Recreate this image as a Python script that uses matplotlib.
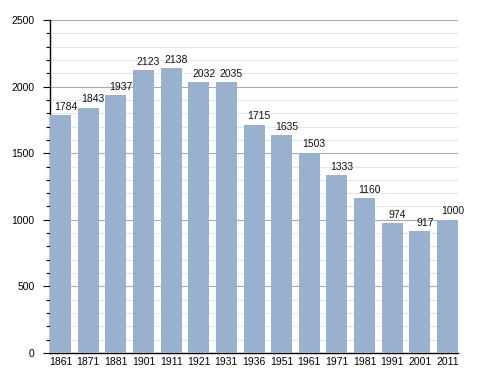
import matplotlib.pyplot as plt
from matplotlib.ticker import MultipleLocator

plt.rcParams['font.family'] = ['Liberation Sans', 'DejaVu Sans']

years = ['1861', '1871', '1881', '1901', '1911', '1921', '1931', '1936',
         '1951', '1961', '1971', '1981', '1991', '2001', '2011']
population = [1784, 1843, 1937, 2123, 2138, 2032, 2035, 1715,
              1635, 1503, 1333, 1160, 974, 917, 1000]

bar_w = 0.76

fig = plt.figure(figsize=(4.88, 3.73), dpi=100)
ax = fig.add_axes([0.1025, 0.0536, 0.836, 0.8928])

x = range(len(years))
ax.bar(x, population, width=bar_w, color='#97b1cf', zorder=3)

for i, v in enumerate(population):
    ax.text(i + 0.18, v + 25, str(v), ha='center', va='bottom', fontsize=7.5, color='#111111')

ax.set_xlim(-bar_w / 2, len(years) - 1 + bar_w / 2)
ax.set_ylim(0, 2500)
ax.set_xticks(list(x))
ax.set_xticklabels(years, fontsize=7.5)
ax.yaxis.set_major_locator(MultipleLocator(500))
ax.yaxis.set_minor_locator(MultipleLocator(100))
ax.tick_params(axis='y', labelsize=7.5, length=5, width=0.8, pad=6)
ax.tick_params(axis='y', which='minor', length=3, width=0.8)
ax.tick_params(axis='x', length=0, pad=3)

ax.grid(axis='y', which='major', color='#aaaaaa', linewidth=0.8, zorder=0)
ax.grid(axis='y', which='minor', color='#e6e6e6', linewidth=0.8, zorder=0)

for s in ['top', 'right']:
    ax.spines[s].set_visible(False)
ax.spines['left'].set_linewidth(1)
ax.spines['bottom'].set_linewidth(1)

plt.savefig('out.png', dpi=100)
